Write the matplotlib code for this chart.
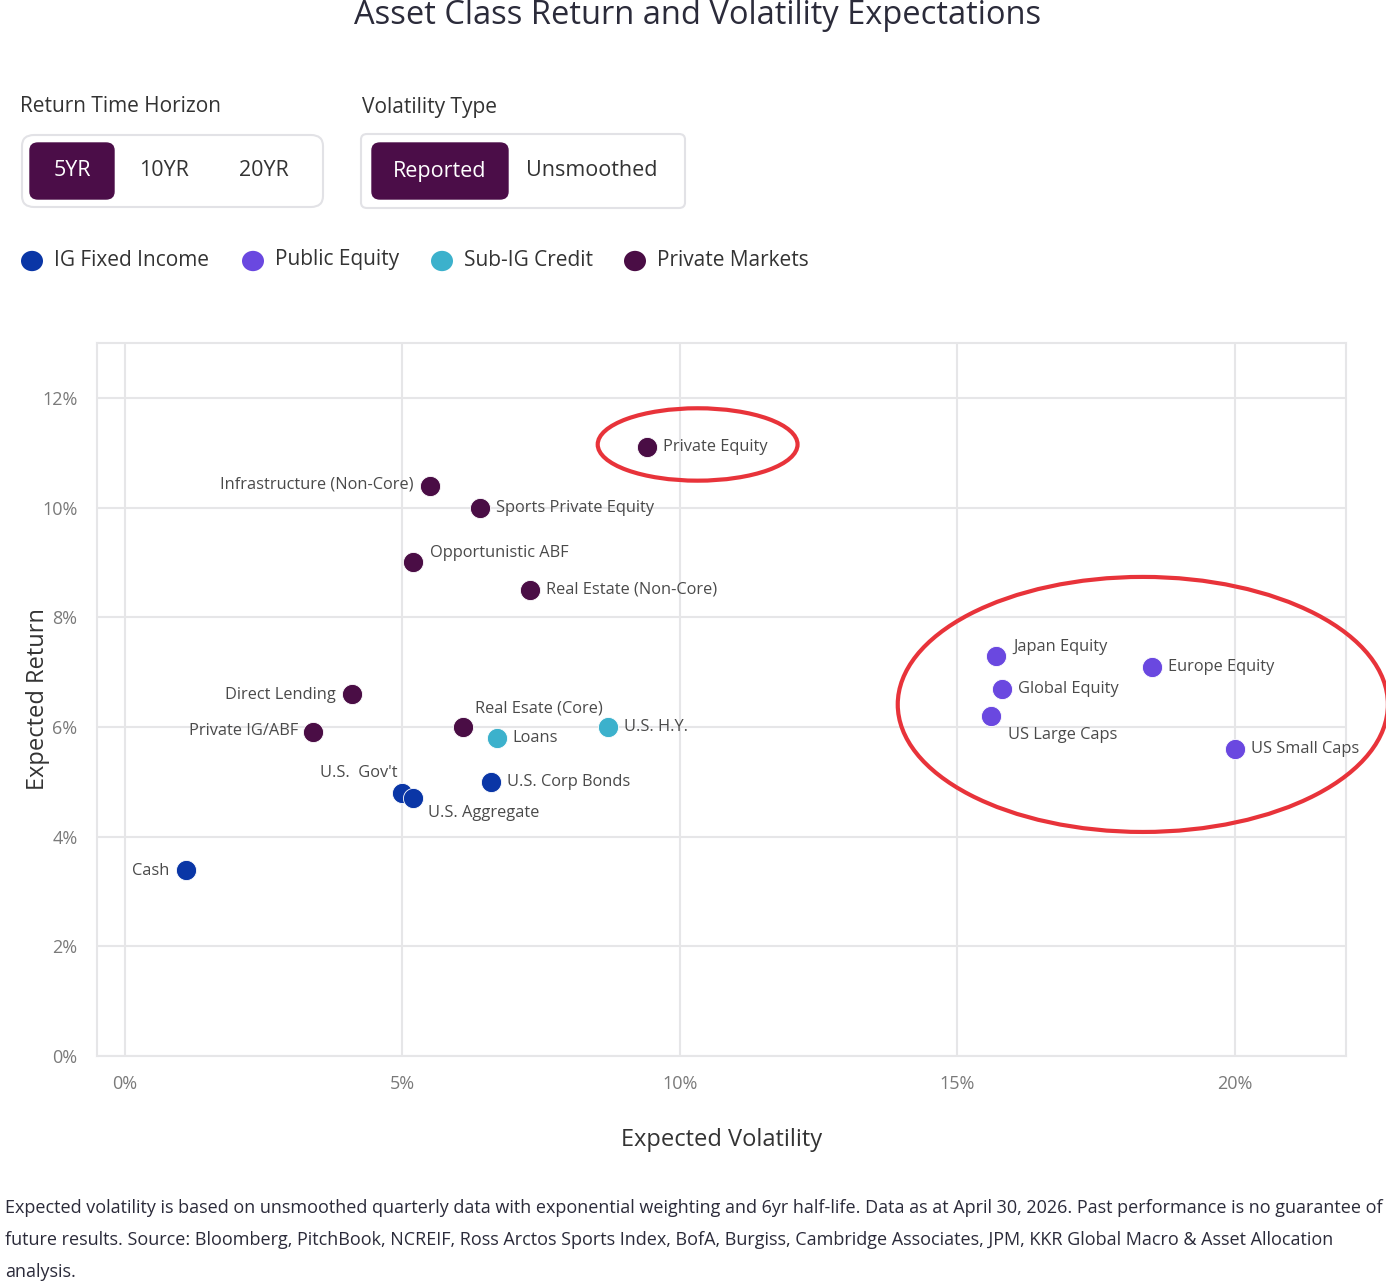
import matplotlib.pyplot as plt
from matplotlib.patches import Ellipse, FancyBboxPatch, Circle

plt.rcParams['font.family'] = ['Open Sans', 'DejaVu Sans']

# data
names = ['Private Equity', 'Infrastructure (Non-Core)', 'Sports Private Equity',
         'Opportunistic ABF', 'Real Estate (Non-Core)', 'Direct Lending',
         'Private IG/ABF', 'Real Esate (Core)', 'Loans', 'U.S. H.Y.',
         "U.S.  Gov't", 'U.S. Aggregate', 'U.S. Corp Bonds', 'Cash',
         'Japan Equity', 'Europe Equity', 'Global Equity', 'US Large Caps',
         'US Small Caps']
vol = [9.4, 5.5, 6.4, 5.2, 7.3, 4.1, 3.4, 6.1, 6.7, 8.7,
       5.0, 5.2, 6.6, 1.1, 15.7, 18.5, 15.8, 15.6, 20.0]
ret = [11.1, 10.4, 10.0, 9.0, 8.5, 6.6, 5.9, 6.0, 5.8, 6.0,
       4.8, 4.7, 5.0, 3.4, 7.3, 7.1, 6.7, 6.2, 5.6]
group = ['PM', 'PM', 'PM', 'PM', 'PM', 'PM', 'PM', 'PM', 'SUB', 'SUB',
         'IG', 'IG', 'IG', 'IG', 'EQ', 'EQ', 'EQ', 'EQ', 'EQ']

groups = ['IG', 'EQ', 'SUB', 'PM']
group_names = ['IG Fixed Income', 'Public Equity', 'Sub-IG Credit', 'Private Markets']
colors = {'IG': '#0a36a6', 'EQ': '#6a48e0', 'SUB': '#3cb1cc', 'PM': '#4a0d45'}

x_ticks = [0, 5, 10, 15, 20]
y_ticks = [0, 2, 4, 6, 8, 10, 12]

# label placement (pixel offsets, alignment)
label_pos = {
    'Infrastructure (Non-Core)': (-17, 1, 'right'),
    'Opportunistic ABF': (17, 9, 'left'),
    'Direct Lending': (-16, -1, 'right'),
    'Private IG/ABF': (-15, 1, 'right'),
    'Real Esate (Core)': (12, 18, 'left'),
    "U.S.  Gov't": (-5, 20, 'right'),
    'U.S. Aggregate': (15, -15, 'left'),
    'Cash': (-16, -1, 'right'),
    'Japan Equity': (17, 9, 'left'),
    'US Large Caps': (17, -19, 'left'),
}

fig = plt.figure(figsize=(13.86, 12.81), dpi=100)
W, H = 1386, 1281


def fx(px):
    return px / W


def fy(py):
    return 1 - py / H


dark = '#4b0d48'
txt = '#333333'

fig.text(fx(698), fy(15), 'Asset Class Return and Volatility Expectations',
         ha='center', va='center', fontsize=23.5, color='#2b2b3a')

# toggle groups
fig.text(fx(20), fy(107), 'Return Time Horizon', ha='left', va='center', fontsize=15, color=txt)
fig.text(fx(362), fy(107), 'Volatility Type', ha='left', va='center', fontsize=15, color=txt)


def box(x0, y0, x1, y1, fc, ec, lw, r):
    p = FancyBboxPatch((fx(x0), fy(y1)), fx(x1 - x0), (y1 - y0) / H,
                       boxstyle='round,pad=0,rounding_size=%f' % (r / W),
                       transform=fig.transFigure, fc=fc, ec=ec, lw=lw)
    fig.add_artist(p)


box(22, 135, 323, 207, 'white', '#e2e2e6', 1.5, 12)
box(30, 143, 114, 199, dark, dark, 1, 8)
box(361, 134, 685, 208, 'white', '#e2e2e6', 1.5, 6)
box(372, 143, 508, 199, dark, dark, 1, 8)
fig.text(fx(72), fy(171), '5YR', ha='center', va='center', fontsize=15.5, color='white')
fig.text(fx(164), fy(171), '10YR', ha='center', va='center', fontsize=15.5, color=txt)
fig.text(fx(264), fy(171), '20YR', ha='center', va='center', fontsize=15.5, color=txt)
fig.text(fx(440), fy(171), 'Reported', ha='center', va='center', fontsize=15.5, color='white')
fig.text(fx(592), fy(171), 'Unsmoothed', ha='center', va='center', fontsize=15.5, color=txt)

# legend
leg_x = [32, 253, 442, 635]
for g, name, lx in zip(groups, group_names, leg_x):
    fig.add_artist(Circle((fx(lx), fy(261)), 11 / W, transform=fig.transFigure,
                          fc=colors[g], ec='none'))
    fig.text(fx(lx + 22), fy(260), name, ha='left', va='center', fontsize=15, color=txt)

# main axes
ax = fig.add_axes([fx(97), fy(1056), fx(1346 - 97), (1056 - 343) / H])
ax.set_xlim(-0.5, 22.0)
ax.set_ylim(0, 13.0)
ax.set_xticks(x_ticks)
ax.set_yticks(y_ticks)
ax.set_xticklabels(['%d%%' % t for t in x_ticks])
ax.set_yticklabels(['%d%%' % t for t in y_ticks])
ax.tick_params(length=0, labelsize=13, labelcolor='#7a7a7a', pad=14)
ax.grid(True, color='#e6e6e8', lw=1.5)
ax.set_axisbelow(True)
for s in ax.spines.values():
    s.set_color('#e6e6e8')
    s.set_linewidth(1.5)

for n, x, y, g in zip(names, vol, ret, group):
    ax.scatter(x, y, s=210, color=colors[g], edgecolor='white', lw=0.6, zorder=3)
    dx, dy, ha = label_pos.get(n, (16, 0, 'left'))
    ax.annotate(n, (x, y), xytext=(dx, dy), textcoords='offset pixels',
                ha=ha, va='center', fontsize=11.8, color='#4a4a4a')

ax.set_xlabel('Expected Volatility', fontsize=17, color=txt, va='center')
ax.xaxis.set_label_coords(0.5, (1056 - 1140) / (1056 - 343))
ax.set_ylabel('Expected Return', fontsize=17, color=txt, va='center')
ax.yaxis.set_label_coords((38 - 97) / (1346 - 97), 0.5)

# red highlight ellipses
ax.add_patch(Ellipse((10.32, 11.15), 3.6, 1.32, fill=False, ec='#e8333a', lw=3, clip_on=False, zorder=5))
ax.add_patch(Ellipse((18.34, 6.41), 8.83, 4.65, fill=False, ec='#e8333a', lw=3, clip_on=False, zorder=5))

notes = ['Expected volatility is based on unsmoothed quarterly data with exponential weighting and 6yr half-life. '
         'Data as at April 30, 2026. Past performance is no guarantee of',
         'future results. Source: Bloomberg, PitchBook, NCREIF, Ross Arctos Sports Index, BofA, Burgiss, '
         'Cambridge Associates, JPM, KKR Global Macro & Asset Allocation',
         'analysis.']
for i, line in enumerate(notes):
    fig.text(fx(5), fy(1208 + 32 * i), line, ha='left', va='center', fontsize=13, color='#2b2b3a')

fig.savefig('out.png', dpi=100)
